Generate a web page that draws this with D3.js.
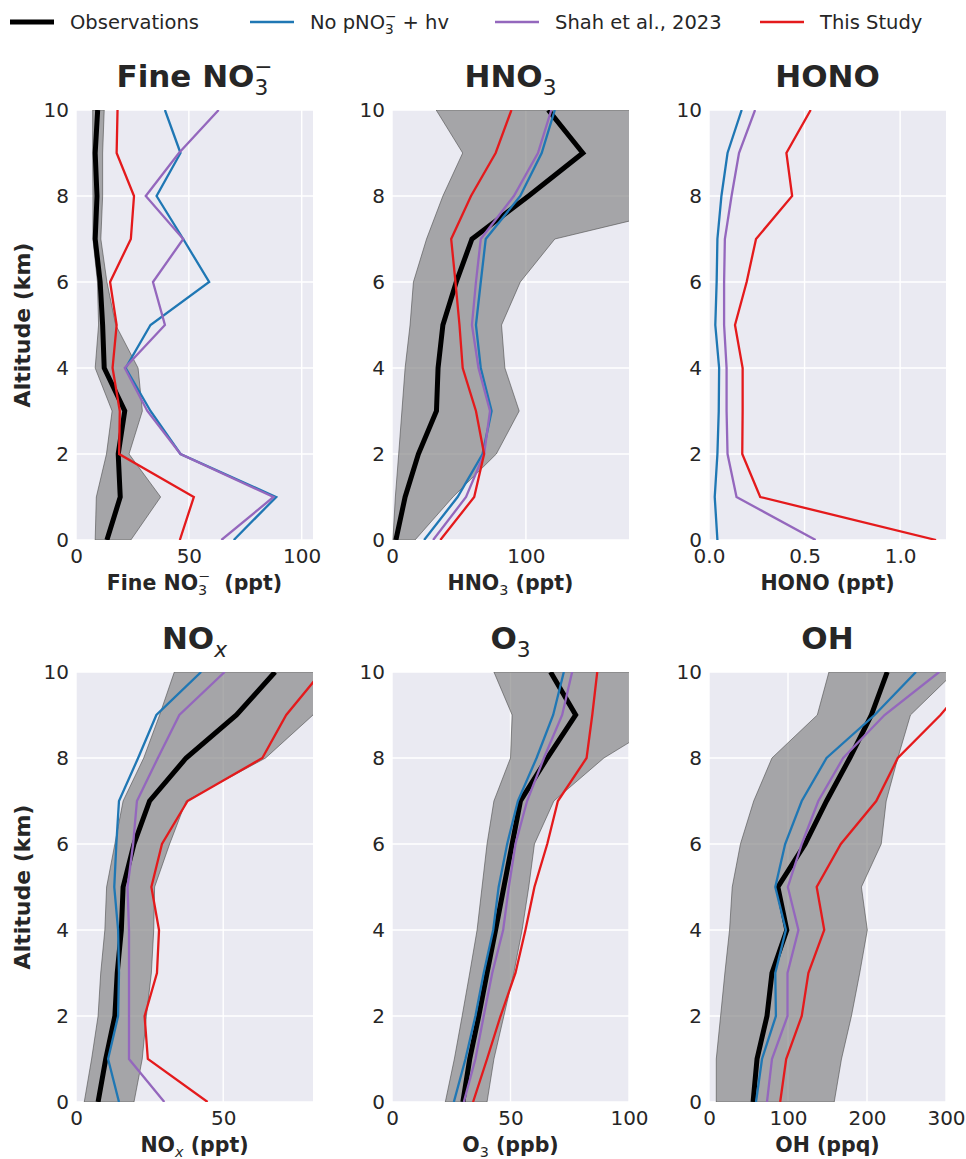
<!DOCTYPE html>
<html>
<head>
<meta charset="utf-8">
<script src="https://cdn.jsdelivr.net/npm/d3@7"></script>
<style>
  body { margin: 0; background: #fff; }
  text { font-family: "DejaVu Sans", sans-serif; fill: #262626; }
</style>
</head>
<body>
<script>
// *********************************************
// DATA (altitude in km)
// *********************************************
var alt = [0, 1, 2, 3, 4, 5, 6, 7, 8, 9, 10];

// Fine NO3-
var no3Obs  = [13.7, 19.6, 18.7, 21.6, 12.5, 11.8, 10.7, 8.5, 9.3, 8.5, 9.6];
var no3Lo   = [8.5, 9, 13.5, 16, 8.5, 10, 9.5, 7.5, 7.5, 7.4, 7.4];
var no3Hi   = [24.3, 37.5, 23.5, 29.4, 27.5, 17.6, 13.7, 11, 11.8, 11.8, 12.5];
var no3NoHv = [69.9, 88.7, 46.3, 33, 22, 33, 59, 47.5, 35.7, 46.3, 39.4];
var no3Shah = [64.4, 87.5, 46.3, 31.6, 21.6, 39.4, 34.1, 47.5, 30.9, 45.6, 63.2];
var no3This = [46, 52.2, 19.1, 19.4, 16.2, 18, 15.1, 24.3, 25.7, 18, 18.4];

// HNO3
var hno3Obs  = [2.9, 9.8, 19.7, 33.2, 34.4, 38, 48, 59.7, 102, 142.5, 116.7];
var hno3Lo   = [0.7, 2.5, 5, 7.4, 9.8, 13.5, 16, 25.8, 38, 52.8, 33];
var hno3Hi   = [17.2, 45.5, 77.9, 95, 84.3, 81.8, 95.8, 121.6, 255, 260, 260];
var hno3NoHv = [24, 49, 67.6, 74.4, 66.3, 62.7, 66.3, 70, 95.8, 111.8, 121.6];
var hno3Shah = [30.7, 55.3, 68.8, 73.2, 64.6, 59.7, 62.7, 66.3, 91, 109, 119];
var hno3This = [36.1, 61.4, 68.8, 62.7, 52.8, 50.4, 47.4, 44.2, 59, 77.4, 89.2];

// HONO (no observations)
var honoNoHv = [0.044, 0.03, 0.044, 0.051, 0.053, 0.033, 0.04, 0.044, 0.065, 0.097, 0.171];
var honoShah = [0.558, 0.144, 0.097, 0.092, 0.092, 0.079, 0.079, 0.083, 0.118, 0.157, 0.241];
var honoThis = [1.188, 0.268, 0.174, 0.176, 0.176, 0.136, 0.197, 0.246, 0.435, 0.405, 0.532];

// NOx
var noxObs  = [7.5, 10.1, 13.2, 14, 15.4, 16, 19.7, 25, 37.4, 54.5, 67.6];
var noxLo   = [2.8, 5.3, 7.5, 8.4, 9.8, 10.4, 13.2, 16, 23, 28.4, 33.4];
var noxHi   = [19.7, 22.5, 23.9, 25.6, 26.4, 26.7, 31.8, 37.4, 64.4, 80.5, 90];
var noxNoHv = [14.6, 10.9, 14.3, 14.6, 14.3, 13, 13.7, 14.6, 21.1, 27.3, 42.5];
var noxShah = [30, 18, 18, 18, 18, 17.5, 19.4, 20.7, 27.8, 35.1, 50.5];
var noxThis = [44.7, 24.4, 23.3, 27.5, 28.2, 25.6, 29.2, 37.9, 63.3, 71.4, 83.4];

// O3
var o3Obs  = [29.9, 32.8, 36.6, 40.1, 43.7, 47.2, 50.7, 54.2, 65.5, 77.5, 66.9];
var o3Lo   = [22.5, 26.3, 29.6, 32.8, 35.9, 38, 40.1, 43, 50, 50.7, 43];
var o3Hi   = [40.1, 43, 47.2, 51.4, 54.9, 57.7, 60.1, 68.3, 89.4, 119, 119];
var o3NoHv = [26.1, 31, 35.2, 38.7, 42.7, 45, 48.6, 53.1, 61, 68, 72.5];
var o3Shah = [30.3, 35.2, 38.7, 42.3, 46.9, 49.3, 52.1, 57, 64.1, 71.8, 76];
var o3This = [34.2, 40.1, 45.8, 52.1, 56.3, 60.1, 65.5, 70, 82.1, 84.5, 86.6];

// OH
var ohObs  = [55.8, 60.8, 73.4, 79.7, 98.5, 87.2, 121.6, 148.8, 178.2, 205.5, 225.6];
var ohLo   = [9.2, 9.2, 14.7, 20.1, 26, 29.4, 39.8, 56.6, 79.7, 137.1, 151.8];
var ohHi   = [158.5, 167.7, 180.3, 190.8, 200.4, 192.9, 218, 224.3, 239, 255, 311];
var ohNoHv = [59.5, 67.1, 84.7, 83.9, 97.3, 83.9, 96.4, 117.4, 148.8, 209.6, 262];
var ohShah = [73.4, 79.7, 99.4, 99.4, 113.2, 99.8, 117.4, 138.4, 169.8, 222.2, 291.4];
var ohThis = [90.1, 97.7, 117.4, 125.8, 145.9, 136.3, 166.9, 211.7, 239, 293, 340];

// axis ranges and ticks
var xMax   = [105, 177, 1.24, 80.5, 100, 300];
var xTicks = [[0, 50, 100], [0, 100], [0, 0.5, 1.0], [0, 50], [0, 50, 100], [0, 100, 200, 300]];
var yTicks = [0, 2, 4, 6, 8, 10];

var seriesNames  = ["Observations", "No pNO3- + hv", "Shah et al., 2023", "This Study"];
var seriesColors = ["#000000", "#1f77b4", "#9467bd", "#e41a1c"];

// *********************************************
// SETUP
// *********************************************
var width = 966, height = 1159;
var colLeft = [76, 392, 709], rowTop = [110, 672];
var pw = 237, ph = 430;

var svg = d3.select("body").append("svg")
    .attr("width", width)
    .attr("height", height);

// text with sub/superscripts; segs = [{t, k: "sub"|"sup", dx, w, i}]
function rich(sel, segs, size) {
  var off = 0;
  segs.forEach(function(s) {
    var target = 0, fs = size;
    if (s.k == "sub") { target = size * 0.25; fs = size * 0.7; }
    if (s.k == "sup") { target = -size * 0.42; fs = size * 0.7; }
    var ts = sel.append("tspan").text(s.t)
        .attr("dy", target - off)
        .attr("font-size", fs);
    if (s.dx) ts.attr("dx", s.dx * size);
    if (s.w) ts.attr("font-weight", s.w);
    if (s.i) ts.attr("font-style", "italic");
    off = target;
  });
}

var panels = [
  {obs: no3Obs, lo: no3Lo, hi: no3Hi, lines: [no3NoHv, no3Shah, no3This],
   title: [{t: "Fine NO"}, {t: "3", k: "sub", w: "normal"}, {t: "\u2212", k: "sup", dx: -0.45, w: "normal"}],
   xlab: [{t: "Fine NO"}, {t: "3", k: "sub", w: "normal"}, {t: "\u2212", k: "sup", dx: -0.45, w: "normal"}, {t: "\u00a0\u00a0(ppt)"}]},
  {obs: hno3Obs, lo: hno3Lo, hi: hno3Hi, lines: [hno3NoHv, hno3Shah, hno3This],
   title: [{t: "HNO"}, {t: "3", k: "sub", w: "normal"}],
   xlab: [{t: "HNO"}, {t: "3", k: "sub", w: "normal"}, {t: " (ppt)"}]},
  {obs: null, lines: [honoNoHv, honoShah, honoThis],
   title: [{t: "HONO"}],
   xlab: [{t: "HONO (ppt)"}], fmt: ".1f"},
  {obs: noxObs, lo: noxLo, hi: noxHi, lines: [noxNoHv, noxShah, noxThis],
   title: [{t: "NO"}, {t: "x", k: "sub", w: "normal", i: true}],
   xlab: [{t: "NO"}, {t: "x", k: "sub", w: "normal", i: true}, {t: " (ppt)"}]},
  {obs: o3Obs, lo: o3Lo, hi: o3Hi, lines: [o3NoHv, o3Shah, o3This],
   title: [{t: "O"}, {t: "3", k: "sub", w: "normal"}],
   xlab: [{t: "O"}, {t: "3", k: "sub", w: "normal"}, {t: " (ppb)"}]},
  {obs: ohObs, lo: ohLo, hi: ohHi, lines: [ohNoHv, ohShah, ohThis],
   title: [{t: "OH"}],
   xlab: [{t: "OH (ppq)"}]}
];

// *********************************************
// PANELS
// *********************************************
panels.forEach(function(p, i) {
  var col = i % 3, row = Math.floor(i / 3);
  var g = svg.append("g")
      .attr("transform", "translate(" + colLeft[col] + "," + rowTop[row] + ")");

  var x = d3.scaleLinear().domain([0, xMax[i]]).range([0, pw]);
  var y = d3.scaleLinear().domain([0, 10]).range([ph, 0]);

  g.append("rect").attr("width", pw).attr("height", ph).attr("fill", "#eaeaf2");

  g.selectAll(".vgrid").data(xTicks[i]).enter().append("line")
      .attr("x1", d => x(d)).attr("x2", d => x(d))
      .attr("y1", 0).attr("y2", ph)
      .attr("stroke", "#fff").attr("stroke-width", 1.4);
  g.selectAll(".hgrid").data(yTicks).enter().append("line")
      .attr("x1", 0).attr("x2", pw)
      .attr("y1", d => y(d)).attr("y2", d => y(d))
      .attr("stroke", "#fff").attr("stroke-width", 1.4);

  var clipId = "clip" + i;
  g.append("clipPath").attr("id", clipId)
    .append("rect").attr("width", pw).attr("height", ph);
  var plot = g.append("g").attr("clip-path", "url(#" + clipId + ")");

  if (p.obs) {
    var band = d3.area()
        .y(d => y(d))
        .x0((d, k) => x(p.lo[k]))
        .x1((d, k) => x(p.hi[k]));
    plot.append("path").datum(alt)
        .attr("d", band)
        .attr("fill", "#7f7f7f").attr("fill-opacity", 0.65)
        .attr("stroke", "#4d4d4d").attr("stroke-opacity", 0.6).attr("stroke-width", 1);
    plot.append("path").datum(alt)
        .attr("d", d3.line().x((d, k) => x(p.obs[k])).y(d => y(d)))
        .attr("fill", "none").attr("stroke", seriesColors[0])
        .attr("stroke-width", 5).attr("stroke-linejoin", "miter");
  }

  p.lines.forEach(function(vals, j) {
    plot.append("path").datum(alt)
        .attr("d", d3.line().x((d, k) => x(vals[k])).y(d => y(d)))
        .attr("fill", "none").attr("stroke", seriesColors[j + 1])
        .attr("stroke-width", 2.3);
  });

  // axes
  var xa = d3.axisBottom(x).tickValues(xTicks[i]).tickSize(0).tickPadding(9);
  if (p.fmt) xa.tickFormat(d3.format(p.fmt));
  var gx = g.append("g").attr("transform", "translate(0," + ph + ")").call(xa);
  var gy = g.append("g").call(d3.axisLeft(y).tickValues(yTicks).tickSize(0).tickPadding(7));
  [gx, gy].forEach(function(a) {
    a.select(".domain").remove();
    a.selectAll("text").attr("font-size", 20).attr("fill", "#262626")
        .attr("font-family", "DejaVu Sans");
  });

  // title
  var t = g.append("text")
      .attr("x", pw / 2).attr("y", -23)
      .attr("text-anchor", "middle")
      .attr("font-weight", "bold");
  rich(t, p.title, 31);

  // x label
  var xl = g.append("text")
      .attr("x", pw / 2).attr("y", ph + 50)
      .attr("text-anchor", "middle")
      .attr("font-weight", "bold");
  rich(xl, p.xlab, 20.5);

  if (col == 0) {
    g.append("text")
        .attr("transform", "translate(" + (-46) + "," + (ph / 2) + ")rotate(-90)")
        .attr("text-anchor", "middle")
        .attr("font-weight", "bold")
        .attr("font-size", 22)
        .text("Altitude (km)");
  }
});

// *********************************************
// LEGEND
// *********************************************
var legX = [10, 250, 495, 760];
var leg = svg.append("g").attr("transform", "translate(0,22)");
seriesNames.forEach(function(name, i) {
  leg.append("line")
      .attr("x1", legX[i]).attr("x2", legX[i] + 44)
      .attr("y1", 0).attr("y2", 0)
      .attr("stroke", seriesColors[i])
      .attr("stroke-width", i == 0 ? 5 : 2.3);
  var lt = leg.append("text")
      .attr("x", legX[i] + 60).attr("y", 7);
  if (i == 1) {
    rich(lt, [{t: "No pNO"}, {t: "3", k: "sub"}, {t: "\u2212", k: "sup", dx: -0.45}, {t: "\u00a0+ hv"}], 19.5);
  } else {
    lt.attr("font-size", 19.5).text(name);
  }
});
</script>
</body>
</html>
